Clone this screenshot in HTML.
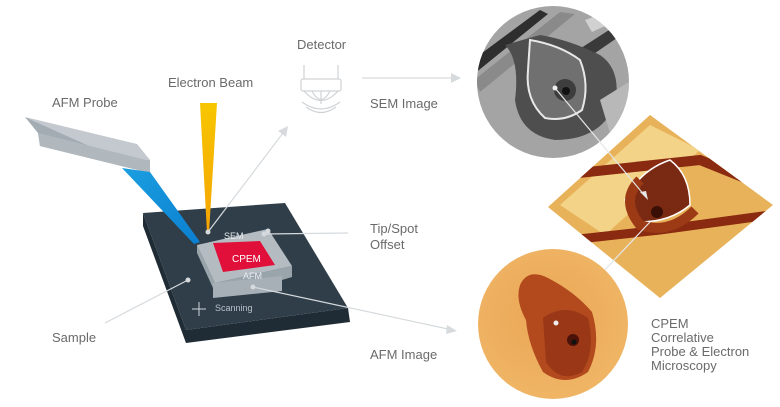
<!DOCTYPE html>
<html><head><meta charset="utf-8"><style>
html,body{margin:0;padding:0;background:#fff;}
svg{display:block;}
text{font-family:"Liberation Sans",sans-serif;}
</style></head><body>
<svg width="780" height="407" viewBox="0 0 780 407" xmlns="http://www.w3.org/2000/svg">
<defs>
<linearGradient id="yb" x1="0" y1="0" x2="0" y2="1"><stop offset="0" stop-color="#f7c600"/><stop offset="1" stop-color="#f5a300"/></linearGradient>
<linearGradient id="bb" x1="0" y1="0" x2="1" y2="1"><stop offset="0" stop-color="#1b9fe0"/><stop offset="1" stop-color="#0b7fd0"/></linearGradient>
<radialGradient id="afm" cx="0.45" cy="0.45" r="0.6"><stop offset="0" stop-color="#eaa656"/><stop offset="1" stop-color="#f0b868"/></radialGradient>
<clipPath id="c1"><circle cx="553" cy="82" r="76"/></clipPath>
<clipPath id="c2"><circle cx="553" cy="324" r="75"/></clipPath>
<clipPath id="dm"><polygon points="650,115 773,205 660,298 548,207"/></clipPath>
</defs>

<g fill="#6a6a6a" font-size="13">
<text x="297" y="49">Detector</text>
<text x="168" y="87">Electron Beam</text>
<text x="52" y="107">AFM Probe</text>
<text x="370" y="108">SEM Image</text>
<text x="370" y="233">Tip/Spot</text>
<text x="370" y="249">Offset</text>
<text x="52" y="342">Sample</text>
<text x="370" y="359">AFM Image</text>
<text x="651" y="328">CPEM</text>
<text x="651" y="342">Correlative</text>
<text x="651" y="356">Probe &amp; Electron</text>
<text x="651" y="370">Microscopy</text>
</g>

<g fill="none" stroke="#d0d3d6" stroke-width="1.2">
<line x1="304" y1="65" x2="304" y2="79"/><line x1="338" y1="65" x2="338" y2="79"/>
<rect x="301" y="79" width="40" height="12" rx="2"/>
<path d="M304 91 Q321 110 338 91"/>
<path d="M312 91 Q321 108 330 91"/><line x1="321" y1="91" x2="321" y2="104"/>
<path d="M302 102 Q321 116 340 102"/><path d="M306 107 Q321 118 336 107"/>
</g>

<polygon points="143,213 143,226 186,343 350,322 348,308 186,330" fill="#1f2c35"/>
<polygon points="143,213 285,203 348,308 186,330" fill="#2f3e49"/>

<polygon points="25,117 137,144 150,160 125,162" fill="#c3c9ce"/>
<polygon points="25,117 38,133 40,146 150,173 150,160 125,162" fill="#a3acb3"/>
<polygon points="38,133 40,146 150,173 150,161" fill="#b0b8be"/>
<polygon points="122,168 150,172 200,242 194,244" fill="url(#bb)"/>

<polygon points="197,253 213,288 282,291 282,280 292,277 292,266 215,283 197,245" fill="#9aa4ab"/>
<polygon points="213,283 282,276 282,291 213,298" fill="#a7b0b7"/>
<polygon points="197,245 268,229 292,266 215,283" fill="#b4bcc2"/>
<polygon points="213,243 260,241 275,265 223,272" fill="#e0103a"/>
<text x="232" y="262" fill="#fff" font-size="10">CPEM</text>
<text x="224" y="239" fill="#e8ecef" font-size="9">SEM</text>
<text x="243" y="279" fill="#e8ecef" font-size="9">AFM</text>
<text x="215" y="311" fill="#b8c2c8" font-size="9">Scanning</text>
<g stroke="#cfd6da" stroke-width="1" fill="none"><line x1="192" y1="309" x2="206" y2="309"/><line x1="199" y1="302" x2="199" y2="316"/></g>

<polygon points="200,103 217,103 209,233 207,233" fill="url(#yb)"/>

<g stroke="#d6dadd" stroke-width="1.2" fill="none">
<line x1="208" y1="232" x2="283" y2="133"/>
<line x1="362" y1="78" x2="452" y2="78"/>
<line x1="264" y1="234" x2="348" y2="233"/>
<line x1="253" y1="287" x2="448" y2="329"/>
<line x1="188" y1="280" x2="105" y2="323"/>
</g>
<g fill="#d6dadd">
<polygon points="288,126 278,131 286,137"/>
<polygon points="461,78 451,73 451,83"/>
<polygon points="457,331 447,325 446,334"/>
<circle cx="208" cy="232" r="2.5"/><circle cx="264" cy="234" r="2.5"/><circle cx="268" cy="231" r="2.5"/>
<circle cx="253" cy="287" r="2.5"/><circle cx="188" cy="280" r="2.5"/>
</g>

<!-- SEM circle -->
<g clip-path="url(#c1)">
<rect x="470" y="0" width="170" height="165" fill="#a4a4a4"/>
<polygon points="470,62 540,10 548,14 474,74" fill="#2e2e2e"/>
<polygon points="474,80 560,12 575,14 480,92" fill="#8a8a8a"/>
<polygon points="578,50 640,10 640,22 585,60" fill="#3a3a3a"/>
<path d="M505,45 Q520,60 515,100 Q520,135 555,140 Q600,140 615,105 Q622,70 600,55 Q570,40 540,35 Z" fill="#4e4e4e"/>
<path d="M530,40 Q560,45 580,60 Q590,85 582,110 Q565,122 545,118 Q525,100 528,70 Z" fill="#707070" stroke="#e8e8e8" stroke-width="2"/>
<circle cx="565" cy="90" r="11" fill="#3d3d3d"/><circle cx="566" cy="91" r="4" fill="#111"/>
<path d="M585,20 L640,0 L640,10 L592,32 Z" fill="#f0f0f0" opacity="0.6"/>
<polygon points="600,100 640,75 640,130 612,140" fill="#b8b8b8"/>
</g>

<!-- diamond AFM 3D -->
<g clip-path="url(#dm)">
<rect x="540" y="110" width="240" height="200" fill="#e8b25a"/>
<polygon points="560,205 650,125 700,150 605,235" fill="#f3d387"/>
<path d="M560,175 L700,160 L775,190" stroke="#8a2a10" stroke-width="10" fill="none"/>
<path d="M570,240 L660,230 L770,215" stroke="#8a2a10" stroke-width="9" fill="none"/>
<path d="M625,200 Q640,170 670,160 Q690,175 690,205 Q670,222 640,222 Z" fill="#7a2a12" stroke="#fff" stroke-width="1.5"/>
<circle cx="657" cy="212" r="6" fill="#3a1006"/>
<path d="M640,180 Q620,200 640,225 Q670,235 695,210" stroke="#9c3a16" stroke-width="10" fill="none"/>
</g>
<g stroke="#e4e6e8" stroke-width="1.2"><line x1="555" y1="88" x2="645" y2="196"/><line x1="550" y1="328" x2="650" y2="222"/></g>
<polygon points="648,200 640,192 646,191" fill="#e4e6e8"/>

<!-- AFM circle -->
<g clip-path="url(#c2)">
<rect x="470" y="245" width="170" height="160" fill="url(#afm)"/>
<path d="M520,285 Q528,268 548,278 Q575,292 592,312 Q602,345 588,372 Q565,388 543,372 Q528,345 526,320 Q515,300 520,285 Z" fill="#b24a1e"/>
<path d="M543,318 Q565,302 588,318 Q596,350 582,372 Q560,384 546,362 Z" fill="#9a3716"/>
<circle cx="573" cy="340" r="6" fill="#4a1208"/><circle cx="574" cy="342" r="2.5" fill="#111"/>
</g>
<circle cx="555" cy="88" r="2.5" fill="#eee"/><circle cx="556" cy="323" r="2.5" fill="#eee"/>
</svg>
</body></html>
